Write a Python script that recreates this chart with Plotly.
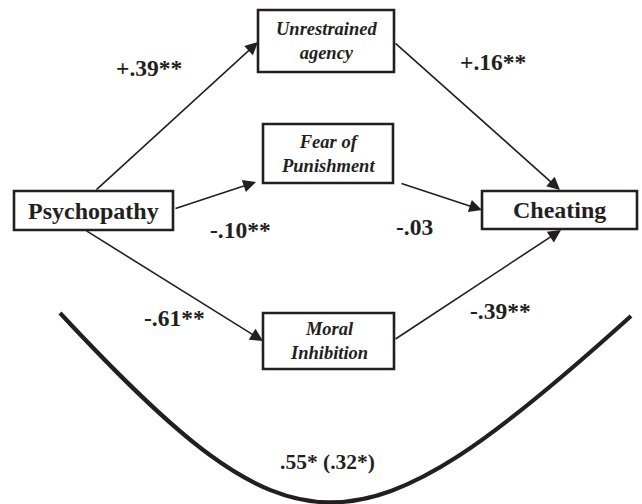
import plotly.graph_objects as go

# ---- data ----
node_names = ["Psychopathy", "Unrestrained<br>agency", "Fear of<br>Punishment", "Moral<br>Inhibition", "Cheating"]
node_italic = [False, True, True, True, False]
edge_from = [0, 0, 0, 1, 2, 3]
edge_to = [1, 2, 3, 4, 4, 4]
edge_labels = ["+.39**", "-.10**", "-.61**", "+.16**", "-.03", "-.39**"]
total_effect_label = ".55* (.32*)"

# ---- layout (pixel space) ----
boxes = [(14, 173, 191, 230), (258, 394, 10, 72), (263, 393, 124, 183), (263, 394, 313, 369), (482, 637, 191, 229)]
edge_tails = [(95, 191), (174, 209), (85, 230), (394, 42), (400, 183), (394, 340)]
edge_tips = [(258, 42), (256, 182), (263, 341), (560, 190), (482, 210), (561, 230)]
label_pos = [(149, 68), (240, 230), (174, 318), (493, 62), (414, 227), (500, 311)]
total_pos = (327, 462)

W, H = 642, 504
ink = "#231f20"
font_family = "Liberation Serif, Times New Roman, serif"

fig = go.Figure()
fig.add_trace(go.Scatter(x=[0, W], y=[0, H], mode="markers", marker=dict(opacity=0), hoverinfo="skip", showlegend=False))

shapes = []
annotations = []
for (x0, x1, y0, y1), name, ital in zip(boxes, node_names, node_italic):
    shapes.append(dict(type="rect", xref="x", yref="y", x0=x0, x1=x1, y0=y0, y1=y1,
                       line=dict(color=ink, width=2.6), fillcolor="white", layer="below"))
    txt = f"<b><i>{name}</i></b>" if ital else f"<b>{name}</b>"
    annotations.append(dict(x=(x0 + x1) / 2, y=(y0 + y1) / 2, xref="x", yref="y", text=txt, showarrow=False,
                            font=dict(family=font_family, size=18.5 if ital else 24, color=ink),
                            xanchor="center", yanchor="middle", align="center"))

for (tx, ty), (hx, hy) in zip(edge_tails, edge_tips):
    annotations.append(dict(x=hx, y=hy, ax=tx, ay=ty, xref="x", yref="y", axref="x", ayref="y",
                            text="", showarrow=True, arrowhead=2, arrowsize=1.6, arrowwidth=1.6,
                            arrowcolor=ink, standoff=0, startstandoff=0))

for (lx, ly), lab in zip(label_pos, edge_labels):
    annotations.append(dict(x=lx, y=ly, xref="x", yref="y", text=f"<b>{lab}</b>", showarrow=False,
                            font=dict(family=font_family, size=23.5, color=ink), xanchor="center", yanchor="middle"))

annotations.append(dict(x=total_pos[0], y=total_pos[1], xref="x", yref="y", text=f"<b>{total_effect_label}</b>",
                        showarrow=False, font=dict(family=font_family, size=21.5, color=ink),
                        xanchor="center", yanchor="middle"))

shapes.append(dict(type="path", xref="x", yref="y", path="M 60,313 C 295,565 355,565 631,316",
                   line=dict(color=ink, width=4.2)))

fig.update_layout(
    width=W, height=H, margin=dict(l=0, r=0, t=0, b=0),
    paper_bgcolor="white", plot_bgcolor="white",
    xaxis=dict(range=[0, W], visible=False, fixedrange=True),
    yaxis=dict(range=[H, 0], visible=False, fixedrange=True),
    shapes=shapes, annotations=annotations, showlegend=False,
)

fig.write_html("out.html", config={"displayModeBar": False},
               post_script="document.body.style.margin='0';document.body.style.overflow='hidden';")
